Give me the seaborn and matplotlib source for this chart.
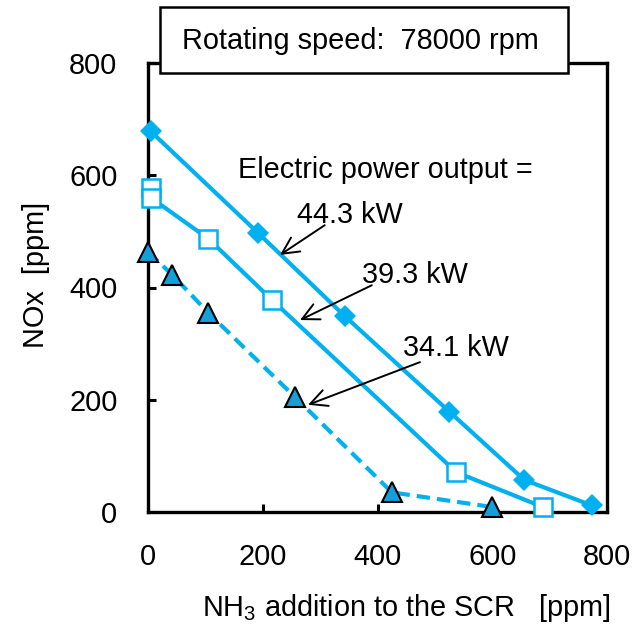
import matplotlib
matplotlib.use("Agg")
import matplotlib.pyplot as plt
import matplotlib.patches as mpatches
import seaborn as sns
import pandas as pd

# ---- data ----
x_443 = [5, 192, 343, 525, 656, 773]
y_443 = [678, 497, 349, 179, 57, 12]
x_393 = [5, 5, 105, 216, 537, 688]
y_393 = [577, 560, 487, 378, 71, 9]
x_341 = [0, 42, 105, 256, 425, 599]
y_341 = [463, 423, 355, 205, 35, 9]
x_ticks = [0, 200, 400, 600, 800]
y_ticks = [0, 200, 400, 600, 800]

sns.set_theme(style="white")
plt.rcParams["font.family"] = ["Liberation Sans", "DejaVu Sans"]
plt.rcParams["text.color"] = "black"
plt.rcParams["axes.labelcolor"] = "black"
plt.rcParams["mathtext.fontset"] = "custom"
plt.rcParams["mathtext.rm"] = "Liberation Sans"

BLUE = "#00B0F0"
TRI = "#149FD8"
FS = 20.8

fig = plt.figure(figsize=(6.36, 6.27), dpi=100)
ax = fig.add_axes([148/636, 1-512/627, 459/636, 449/627])

sns.lineplot(x=x_443, y=y_443, ax=ax, sort=False, estimator=None, errorbar=None,
             color=BLUE, lw=3, marker="D", markersize=11, markeredgewidth=0,
             markerfacecolor=BLUE, clip_on=False, zorder=3)
sns.lineplot(x=x_393, y=y_393, ax=ax, sort=False, estimator=None, errorbar=None,
             color=BLUE, lw=3, marker="s", markersize=13, markeredgewidth=1.8,
             markerfacecolor="white", markeredgecolor=BLUE, clip_on=False, zorder=3)
sns.lineplot(x=x_341, y=y_341, ax=ax, sort=False, estimator=None, errorbar=None,
             color=BLUE, lw=3, linestyle=(0, (3.2, 1.7)), marker="^", markersize=14,
             markeredgewidth=1.5, markerfacecolor=TRI, markeredgecolor="black",
             clip_on=False, zorder=3)

ax.set_xlim(0, 800)
ax.set_ylim(0, 800)
ax.set_xticks(x_ticks)
ax.set_yticks(y_ticks)
ax.tick_params(axis="both", direction="in", length=6, width=2.2, labelsize=FS,
               colors="black", left=True, bottom=True)
ax.tick_params(axis="x", pad=22)
ax.tick_params(axis="y", pad=22)
for s in ax.spines.values():
    s.set_linewidth(2.4)
    s.set_color("black")

ax.set_xlabel("NH$_\\mathregular{3}$ addition to the SCR   [ppm]", fontsize=FS)
ax.xaxis.set_label_coords(0.562, -0.178)
ax.set_ylabel("NOx  [ppm]", fontsize=FS)
ax.yaxis.set_label_coords(-0.213, 0.528)

# annotations
ax.text(157, 609, "Electric power output =", fontsize=FS, ha="left", va="center")
ax.text(259, 529, "44.3 kW", fontsize=FS, ha="left", va="center")
ax.text(373, 422, "39.3 kW", fontsize=FS, ha="left", va="center")
ax.text(444, 292, "34.1 kW", fontsize=FS, ha="left", va="center")
aprops = dict(arrowstyle="->,head_length=1.0,head_width=0.5", color="black", lw=1.4,
              shrinkA=0, shrinkB=0)
ax.annotate("", xy=(230, 458), xytext=(308, 511), arrowprops=aprops)
ax.annotate("", xy=(265, 342), xytext=(390, 404), arrowprops=aprops)
ax.annotate("", xy=(279, 191), xytext=(474, 267), arrowprops=aprops)

# title box
rect = mpatches.Rectangle((160/636, 1-73/627), 408/636, 66/627, transform=fig.transFigure,
                          facecolor="white", edgecolor="black", lw=1.8, zorder=5)
fig.add_artist(rect)
fig.text(360/636, 1-41/627, "Rotating speed:  78000 rpm", fontsize=FS, ha="center",
         va="center", zorder=6)

fig.savefig("out.png", dpi=100)
